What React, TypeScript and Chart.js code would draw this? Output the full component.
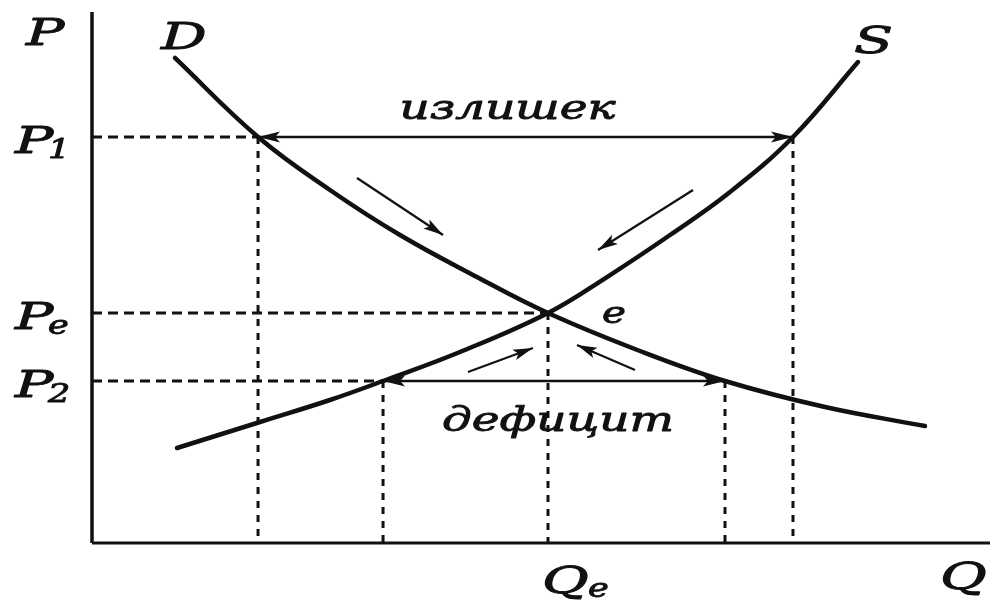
import React, { useEffect, useRef } from "react";
import { Chart, registerables } from "chart.js";

Chart.register(...registerables);

// Demand curve D (quantity, price)
const demandQ = [9.24, 18.49, 26.5, 34.3, 42.87, 50.78, 61.02, 70.49, 81.63, 92.76];
const demandP = [91.34, 76.46, 66.48, 58.0, 50.09, 43.31, 36.16, 30.51, 25.61, 22.03];

// Supply curve S (quantity, price)
const supplyQ = [9.47, 18.71, 26.5, 32.41, 40.98, 50.78, 57.35, 64.37, 71.05, 78.06, 85.3];
const supplyP = [17.89, 22.79, 26.93, 30.51, 35.97, 43.31, 50.09, 58.0, 66.1, 76.46, 90.58];

// Price levels: P1, Pe, P2
const priceLevels = [76.46, 43.31, 30.51];
const priceSubs = ["1", "e", "2"];

// Quantities at the price levels
const qd1 = 18.49; // demand at P1
const qs1 = 78.06; // supply at P1
const qs2 = 32.41; // supply at P2
const qd2 = 70.49; // demand at P2
const qe = 50.78; // equilibrium quantity

// Small adjustment arrows: from (Q, P) to (Q, P)
const arrowFromQ = [29.51, 66.93, 41.87, 60.47];
const arrowFromP = [68.74, 66.48, 32.2, 32.58];
const arrowToQ = [39.09, 56.35, 49.11, 54.01];
const arrowToP = [58.0, 55.18, 36.72, 37.29];

const axisMax = 100;
const INK = "#111111";
const FONT = '"DejaVu Serif", serif';

const arrowPlugin = {
  id: "arrowHeads",
  afterDatasetsDraw(chart: any) {
    const ctx = chart.ctx;
    chart.data.datasets.forEach((ds: any, i: number) => {
      if (!ds.arrowHeads) return;
      const pts = chart.getDatasetMeta(i).data;
      const n = pts.length;
      const draw = (tip: any, from: any) => {
        const ang = Math.atan2(tip.y - from.y, tip.x - from.x);
        const L = ds.headLength;
        const W = ds.headWidth;
        ctx.save();
        ctx.fillStyle = INK;
        ctx.translate(tip.x, tip.y);
        ctx.rotate(ang);
        ctx.beginPath();
        ctx.moveTo(0, 0);
        ctx.lineTo(-L, -W);
        ctx.lineTo(-L * 0.78, 0);
        ctx.lineTo(-L, W);
        ctx.closePath();
        ctx.fill();
        ctx.restore();
      };
      draw(pts[n - 1], pts[n - 2]);
      if (ds.arrowHeads === "both") draw(pts[0], pts[1]);
    });
  },
};

function txt(ctx: any, s: string, x: number, y: number, font: string, sx: number, align = "left") {
  ctx.save();
  ctx.font = font;
  ctx.textAlign = align;
  ctx.textBaseline = "alphabetic";
  ctx.fillStyle = INK;
  ctx.strokeStyle = INK;
  ctx.lineWidth = 0.9;
  ctx.lineJoin = "round";
  ctx.translate(x, y);
  ctx.scale(sx, 1);
  ctx.fillText(s, 0, 0);
  ctx.strokeText(s, 0, 0);
  ctx.restore();
}

const labelPlugin = {
  id: "labels",
  afterDraw(chart: any) {
    const ctx = chart.ctx;
    const xs = chart.scales.x;
    const ys = chart.scales.y;
    const X = (v: number) => xs.getPixelForValue(v);
    const Y = (v: number) => ys.getPixelForValue(v);
    ctx.save();
    const big = `italic 38px ${FONT}`;
    const sub = `italic 26px ${FONT}`;
    const word = `italic 34px ${FONT}`;
    const SX = 1.5;

    // axis names
    txt(ctx, "P", X(0) - 66, Y(axisMax) + 33, big, SX);
    txt(ctx, "Q", X(axisMax) - 50, Y(0) + 46, big, SX);

    // price tick labels
    priceLevels.forEach((p, i) => {
      const by = Y(p) + 16;
      txt(ctx, "P", X(0) - 77, by, big, SX);
      txt(ctx, priceSubs[i], X(0) - 44, by + 5, sub, 1.35);
    });

    // Qe label
    txt(ctx, "Q", X(qe) - 6, Y(0) + 50, big, SX);
    txt(ctx, "e", X(qe) + 40, Y(0) + 54, sub, 1.35);

    // curve names
    txt(ctx, "D", X(demandQ[0]) - 14, Y(demandP[0]) - 9, big, SX);
    const sl = supplyQ.length - 1;
    txt(ctx, "S", X(supplyQ[sl]) - 4, Y(supplyP[sl]) - 9, big, SX);

    // equilibrium point
    txt(ctx, "e", X(qe) + 54, Y(priceLevels[1]) + 10, `italic 30px ${FONT}`, 1.35);

    // surplus / shortage words
    txt(ctx, "излишек", (X(qd1) + X(qs1)) / 2 - 18, Y(priceLevels[0]) - 18, word, 1.38, "center");
    txt(ctx, "дефицит", (X(qs2) + X(qd2)) / 2 + 4, Y(priceLevels[2]) + 50, word, 1.38, "center");
    ctx.restore();
  },
};

function seg(x1: number, y1: number, x2: number, y2: number) {
  return [
    { x: x1, y: y1 },
    { x: x2, y: y2 },
  ];
}

export default function App() {
  const ref = useRef<HTMLCanvasElement | null>(null);

  useEffect(() => {
    if (!ref.current) return;
    const [p1, pe, p2] = priceLevels;
    const dashH = [10, 6];
    const dashV = [7, 7];
    const guide = (data: any[], dash: number[]) => ({
      data,
      borderColor: INK,
      borderWidth: 3,
      borderDash: dash,
      pointRadius: 0,
      showLine: true,
      clip: false,
    });
    const arrow = (data: any[], heads: string, width: number, L: number, W: number) => ({
      data,
      borderColor: INK,
      borderWidth: width,
      pointRadius: 0,
      showLine: true,
      clip: false,
      arrowHeads: heads,
      headLength: L,
      headWidth: W,
    });
    const curve = (qs: number[], ps: number[]) => ({
      data: qs.map((q, i) => ({ x: q, y: ps[i] })),
      borderColor: INK,
      borderWidth: 4.5,
      borderCapStyle: "round",
      pointRadius: 0,
      showLine: true,
      tension: 0.4,
      clip: false,
    });

    const datasets: any[] = [
      // axes
      { data: seg(0, 0, 0, axisMax), borderColor: INK, borderWidth: 3.5, pointRadius: 0, showLine: true, clip: false },
      { data: seg(0, 0, axisMax, 0), borderColor: INK, borderWidth: 3, pointRadius: 0, showLine: true, clip: false },
      // horizontal guides
      guide(seg(0, p1, qd1, p1), dashH),
      guide(seg(0, pe, qe, pe), dashH),
      guide(seg(0, p2, qs2, p2), dashH),
      // vertical guides
      guide(seg(qd1, p1, qd1, 0), dashV),
      guide(seg(qs1, p1, qs1, 0), dashV),
      guide(seg(qs2, p2, qs2, 0), dashV),
      guide(seg(qe, pe, qe, 0), dashV),
      guide(seg(qd2, p2, qd2, 0), dashV),
      // curves
      curve(demandQ, demandP),
      curve(supplyQ, supplyP),
      // surplus and shortage arrows
      arrow(seg(qd1, p1, qs1, p1), "both", 2.4, 22, 5.5),
      arrow(seg(qs2, p2, qd2, p2), "both", 2.4, 22, 5.5),
      // adjustment arrows
      ...arrowFromQ.map((q, i) =>
        arrow(seg(q, arrowFromP[i], arrowToQ[i], arrowToP[i]), "end", 2.2, 20, 5.5)
      ),
    ];

    const chart = new Chart(ref.current, {
      type: "scatter",
      data: { datasets },
      options: {
        animation: false,
        responsive: false,
        layout: { padding: { left: 92, right: 0, top: 12, bottom: 59 } },
        scales: {
          x: { type: "linear", min: 0, max: axisMax, display: false },
          y: { type: "linear", min: 0, max: axisMax, display: false },
        },
        plugins: { legend: { display: false }, tooltip: { enabled: false } },
      },
      plugins: [arrowPlugin, labelPlugin],
    } as any);
    return () => chart.destroy();
  }, []);

  return (
    <div style={{ position: "fixed", left: 0, top: 0, width: 990, height: 602, background: "#fff" }}>
      <canvas ref={ref} width={990} height={602} />
    </div>
  );
}
